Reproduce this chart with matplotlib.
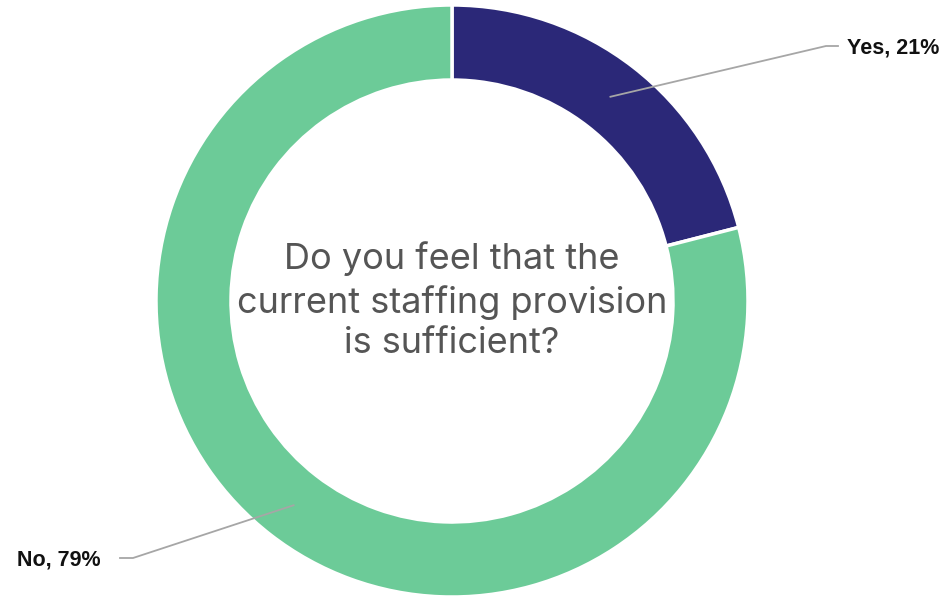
import numpy as np
import matplotlib
matplotlib.use("Agg")
import matplotlib.pyplot as plt

categories = ["Yes", "No"]
values = [21, 79]
colors = ["#2B2878", "#6CCB98"]
title = "Do you feel that the\ncurrent staffing provision\nis sufficient?"

W, H = 947, 598
fig = plt.figure(figsize=(W / 100, H / 100), dpi=100)
ax = fig.add_axes([0, 0, 1, 1])

cx, cy, R, width = 452, H - 301, 296, 75
wedges, _ = ax.pie(values, colors=colors, startangle=90, counterclock=False,
                   center=(cx, cy), radius=R, frame=True,
                   wedgeprops=dict(width=width, edgecolor="white", linewidth=2.5))
ax.set_xlim(0, W)
ax.set_ylim(0, H)
ax.set_aspect("equal")
ax.axis("off")

ax.text(cx, cy, title, ha="center", va="center", fontsize=26,
        color="#555555", family="Inter", linespacing=1.3)

# label elbow end points for each category
label_pos = [(838, H - 46), (120, H - 558)]
total = sum(values)
cum = 0
rm = R - width / 2
for i, (cat, v) in enumerate(zip(categories, values)):
    mid = 90 - (cum + v / 2) / total * 360
    cum += v
    px = cx + rm * np.cos(np.radians(mid))
    py = cy + rm * np.sin(np.radians(mid))
    lx, ly = label_pos[i]
    if lx > cx:
        ex = lx - 12
        ax.plot([px, ex, lx], [py, ly, ly], color="#A6A6A6", lw=1.3)
        ax.text(lx + 9, ly - 2, f"{cat}, {v}%", ha="left", va="center",
                fontsize=15.5, fontweight="bold", color="#111111", family="Liberation Sans")
    else:
        ex = lx + 13
        ax.plot([px, ex, lx], [py, ly, ly], color="#A6A6A6", lw=1.3)
        ax.text(lx - 19, ly - 2, f"{cat}, {v}%", ha="right", va="center",
                fontsize=15.5, fontweight="bold", color="#111111", family="Liberation Sans")

fig.savefig("out.png", dpi=100)
